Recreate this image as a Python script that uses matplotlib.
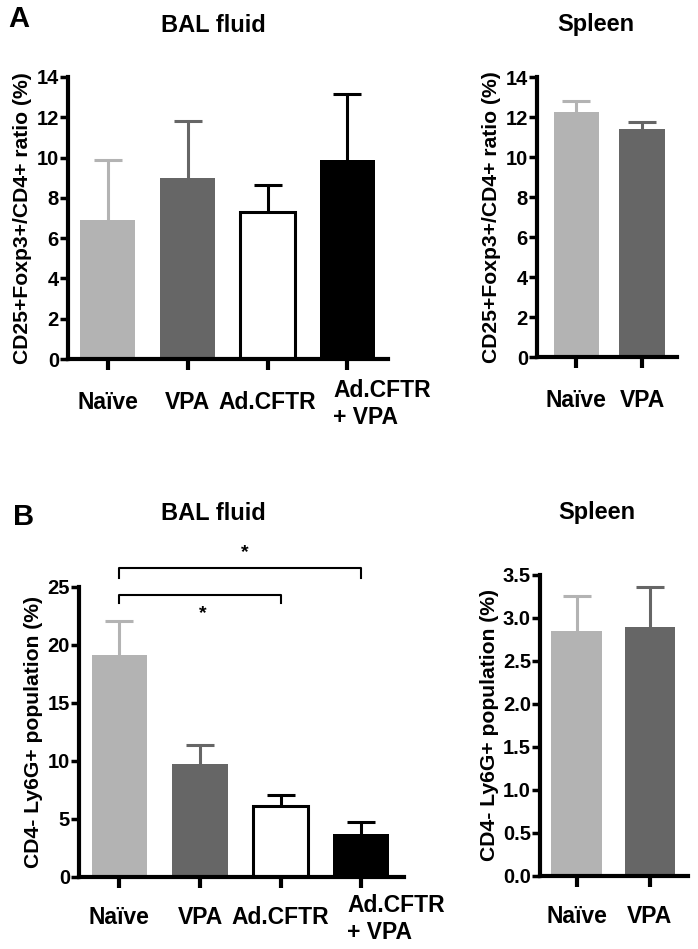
import numpy as np
import matplotlib
matplotlib.use('Agg')
import matplotlib.pyplot as plt
import matplotlib.transforms as mtransforms

plt.rcParams['font.family'] = ['Liberation Sans', 'DejaVu Sans']
plt.rcParams['font.weight'] = 'bold'

# panel A: CD25+Foxp3+/CD4+ ratio
bal_groups = ['Naïve', 'VPA', 'Ad.CFTR', 'Ad.CFTR\n+ VPA']
bal_a_mean = [6.9, 9.0, 7.3, 9.9]
bal_a_err = [3.0, 2.8, 1.35, 3.25]
spl_groups = ['Naïve', 'VPA']
spl_a_mean = [12.27, 11.38]
spl_a_err = [0.53, 0.37]

# panel B: CD4- Ly6G+ population
bal_b_mean = [19.1, 9.7, 6.1, 3.7]
bal_b_err = [3.0, 1.65, 0.95, 1.0]
spl_b_mean = [2.85, 2.89]
spl_b_err = [0.40, 0.47]

face = ['#b3b3b3', '#666666', 'white', 'black']
errc = ['#b3b3b3', '#666666', 'black', 'black']

fig = plt.figure(figsize=(6.98, 9.49), dpi=100)


def barpanel(rect, groups, mean, err, ylim, yticks, ylabel, xright, fmt='%d', xpad=15):
    ax = fig.add_axes(rect)
    x = np.arange(len(groups))
    for i in range(len(groups)):
        ax.bar(x[i], mean[i], width=0.69, color=face[i],
               edgecolor='black' if face[i] == 'white' else face[i],
               linewidth=2.2 if face[i] == 'white' else 0, zorder=2)
        eb = ax.errorbar(x[i], mean[i], yerr=[[0], [err[i]]], color=errc[i],
                         elinewidth=2.2, capsize=10, capthick=2.2, zorder=3,
                         clip_on=False)
        # hide the cap sitting on the bar top
        eb[1][0].set_visible(False)
    ax.set_xlim(-0.5, xright)
    ax.set_ylim(*ylim)
    ax.set_yticks(yticks)
    ax.set_yticklabels([fmt % v for v in yticks])
    ax.set_xticks(x)
    ax.set_xticklabels(groups, fontsize=16.5, fontweight='bold')
    ax.set_ylabel(ylabel, fontsize=15.2, fontweight='bold', labelpad=3)
    for s in ['top', 'right']:
        ax.spines[s].set_visible(False)
    for s in ['left', 'bottom']:
        ax.spines[s].set_linewidth(3)
    ax.tick_params(axis='y', width=2.5, length=6, labelsize=14.5, pad=0.5)
    ax.tick_params(axis='x', width=3, length=8, pad=xpad)
    return ax


axA1 = barpanel([0.0974, 0.6217, 0.4585, 0.2972], bal_groups, bal_a_mean, bal_a_err,
                (0, 14), [0, 2, 4, 6, 8, 10, 12, 14],
                'CD25+Foxp3+/CD4+ ratio (%)', 3.51)
axA2 = barpanel([0.7693, 0.6238, 0.2006, 0.2950], spl_groups, spl_a_mean, spl_a_err,
                (0, 14), [0, 2, 4, 6, 8, 10, 12, 14],
                'CD25+Foxp3+/CD4+ ratio (%)', 1.53)
axA2.set_xlim(-0.6, 1.53)
axB1 = barpanel([0.1132, 0.0759, 0.4656, 0.3056], bal_groups, bal_b_mean, bal_b_err,
                (0, 25), [0, 5, 10, 15, 20, 25],
                'CD4- Ly6G+ population (%)', 3.53, xpad=13)
axB2 = barpanel([0.7736, 0.0772, 0.2120, 0.3169], spl_groups, spl_b_mean, spl_b_err,
                (0, 3.5), [0, 0.5, 1.0, 1.5, 2.0, 2.5, 3.0, 3.5],
                'CD4- Ly6G+ population (%)', 1.52, fmt='%.1f', xpad=13)

# left-align the two-line label, nudged left of the tick and up
for ax in [axA1, axB1]:
    lab = ax.get_xticklabels()[3]
    lab.set_horizontalalignment('left')
    lab.set_multialignment('left')
    lab.set_transform(lab.get_transform() +
                      mtransforms.ScaledTranslation(-0.14, 0.12, fig.dpi_scale_trans))

# significance brackets
def bracket(ax, x0, x1, y, drop, star_y):
    ax.plot([x0, x0, x1, x1], [y - drop, y, y, y - drop], color='black',
            lw=1.5, clip_on=False)
    ax.text(x0 + (x1 - x0) * 0.52, star_y, '*', ha='center', va='center',
            fontsize=14, fontweight='bold', clip_on=False)

bracket(axB1, 0, 2, 24.3, 0.7, 22.7)
bracket(axB1, 0, 3, 26.6, 0.8, 28.0)

fig.text(19 / 698, 1 - 19 / 949, 'A', fontsize=21, fontweight='bold', ha='center', va='center')
fig.text(24 / 698, 1 - 517 / 949, 'B', fontsize=21, fontweight='bold', ha='center', va='center')
fig.text(213 / 698, 1 - 25 / 949, 'BAL fluid', fontsize=17, fontweight='bold', ha='center', va='center')
fig.text(596 / 698, 1 - 25 / 949, 'Spleen', fontsize=17, fontweight='bold', ha='center', va='center')
fig.text(213 / 698, 1 - 513 / 949, 'BAL fluid', fontsize=17, fontweight='bold', ha='center', va='center')
fig.text(597 / 698, 1 - 513 / 949, 'Spleen', fontsize=17, fontweight='bold', ha='center', va='center')

fig.savefig('out.png', dpi=100)
